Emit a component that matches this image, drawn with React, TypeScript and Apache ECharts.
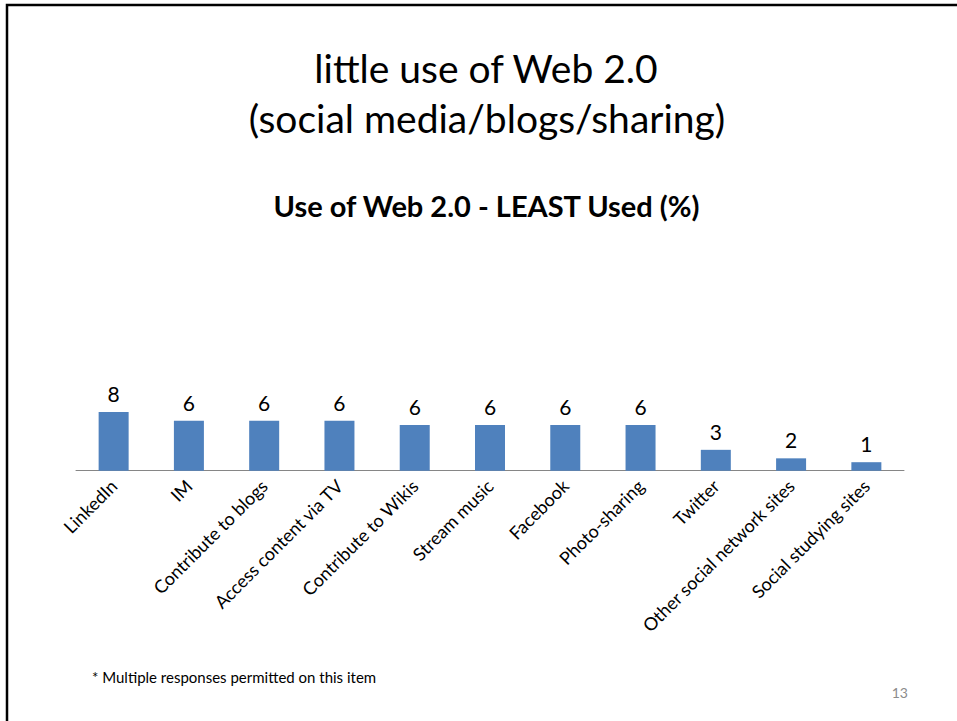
import React, { useEffect, useRef } from "react";
import * as echarts from "echarts";

const categories = [
  "LinkedIn",
  "IM",
  "Contribute to blogs",
  "Access content via TV",
  "Contribute to Wikis",
  "Stream music",
  "Facebook",
  "Photo-sharing",
  "Twitter",
  "Other social network sites",
  "Social studying sites",
];
const values = [7.6, 6.45, 6.45, 6.45, 5.9, 5.9, 5.9, 5.9, 2.7, 1.6, 1.1];

const titleLine1 = "little use of Web 2.0";
const titleLine2 = "(social media/blogs/sharing)";
const chartTitle = "Use of Web 2.0 - LEAST Used (%)";
const footnote = "* Multiple responses permitted on this item";
const pageNumber = "13";

const FONT = "Lato, 'Open Sans', sans-serif";

export default function App() {
  const ref = useRef<HTMLDivElement>(null);
  useEffect(() => {
    document.body.style.margin = "0";
    const chart = echarts.init(ref.current!, undefined, { renderer: "svg" });
    chart.setOption({
      animation: false,
      backgroundColor: "#ffffff",
      textStyle: { fontFamily: FONT },
      grid: { left: 76, width: 828, top: 238.8, height: 231.9, containLabel: false },
      xAxis: {
        type: "category",
        data: categories,
        axisTick: { show: false },
        axisLine: { lineStyle: { color: "#868686", width: 1 } },
        axisLabel: {
          interval: 0,
          rotate: 45,
          fontSize: 18,
          color: "#000",
          margin: 12,
          fontFamily: FONT,
        },
      },
      yAxis: { type: "value", min: 0, max: 30, show: false },
      series: [
        {
          type: "bar",
          data: values,
          barWidth: 30,
          itemStyle: { color: "#4F81BD" },
          label: {
            show: true,
            position: "top",
            distance: 8,
            fontSize: 21,
            color: "#000",
            fontFamily: FONT,
            formatter: (p: any) => String(Math.round(p.value)),
          },
        },
      ],
      graphic: [
        {
          type: "rect",
          shape: { x: 7, y: 5, width: 1000, height: 800 },
          style: { fill: "none", stroke: "#000", lineWidth: 2.5 },
          silent: true,
        },
        {
          type: "text",
          style: {
            x: 486, y: 68, text: titleLine1, textAlign: "center", textVerticalAlign: "middle",
            fontSize: 39, fontFamily: FONT, fill: "#000",
          },
        },
        {
          type: "text",
          style: {
            x: 487, y: 118, text: titleLine2, textAlign: "center", textVerticalAlign: "middle",
            fontSize: 39, fontFamily: FONT, fill: "#000",
          },
        },
        {
          type: "text",
          style: {
            x: 486.5, y: 205, text: chartTitle, textAlign: "center", textVerticalAlign: "middle",
            fontSize: 29, fontWeight: "bold", fontFamily: FONT, fill: "#000",
          },
        },
        {
          type: "text",
          style: {
            x: 92, y: 677, text: footnote, textAlign: "left", textVerticalAlign: "middle",
            fontSize: 15, fontFamily: FONT, fill: "#000",
          },
        },
        {
          type: "text",
          style: {
            x: 908, y: 692, text: pageNumber, textAlign: "right", textVerticalAlign: "middle",
            fontSize: 14, fontFamily: FONT, fill: "#8b8b8b",
          },
        },
      ],
    });
    return () => chart.dispose();
  }, []);
  return <div ref={ref} style={{ width: 957, height: 721 }} />;
}
